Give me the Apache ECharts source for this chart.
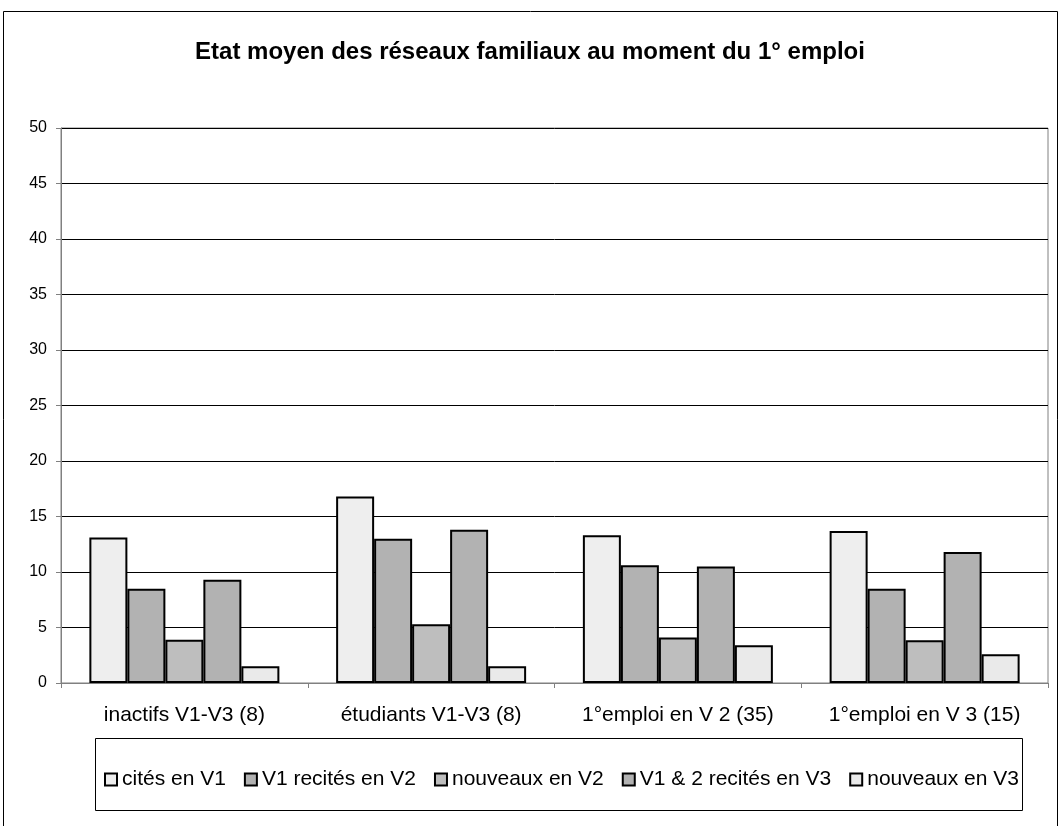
<!DOCTYPE html>
<html>
<head>
<meta charset="utf-8">
<script src="https://cdn.jsdelivr.net/npm/echarts@6/dist/echarts.min.js"></script>
<style>
  html, body { margin: 0; padding: 0; background: #fff; }
  #chart { width: 1060px; height: 826px; }
</style>
</head>
<body>
<div id="chart"></div>
<script>
// catégories et séries
const categories = ['inactifs V1-V3 (8)', 'étudiants V1-V3 (8)', '1°emploi en V 2 (35)', '1°emploi en V 3 (15)']
const seriesNames = ['cités en V1', 'V1 recités en V2', 'nouveaux en V2', 'V1 & 2 recités en V3', 'nouveaux en V3']
const citesV1 = [13.1, 16.8, 13.3, 13.7]
const recitesV2 = [8.5, 13.0, 10.6, 8.5]
const nouveauxV2 = [3.9, 5.3, 4.1, 3.85]
const recitesV3 = [9.3, 13.8, 10.5, 11.8]
const nouveauxV3 = [1.5, 1.5, 3.4, 2.6]
const seriesColors = ['#eeeeee', '#b2b2b2', '#bebebe', '#b2b2b2', '#eaeaea']

const seriesData = [citesV1, recitesV2, nouveauxV2, recitesV3, nouveauxV3]
const font = 'Liberation Sans, Arial, sans-serif'

const chart = echarts.init(document.getElementById('chart'))

chart.setOption({
  backgroundColor: '#fff',
  animation: false,
  title: {
    text: 'Etat moyen des réseaux familiaux au moment du 1° emploi',
    left: 'center',
    top: 35,
    textStyle: { fontFamily: font, fontSize: 24, fontWeight: 'bold', color: '#000' }
  },
  graphic: [
    {
      type: 'rect',
      shape: { x: 3.5, y: 11.5, width: 1054, height: 830 },
      style: { fill: 'none', stroke: '#000', lineWidth: 1 },
      silent: true
    },
    {
      type: 'rect',
      shape: { x: 95.5, y: 738.5, width: 927, height: 72 },
      style: { fill: 'none', stroke: '#000', lineWidth: 1 },
      silent: true
    }
  ],
  legend: {
    left: 99,
    top: 764,
    icon: 'rect',
    itemWidth: 12,
    itemHeight: 12,
    itemGap: 18,
    textStyle: { fontFamily: font, fontSize: 21, color: '#000' },
    data: seriesNames
  },
  grid: {
    left: 61,
    right: 12,
    top: 128,
    bottom: 143,
    show: true,
    borderColor: '#808080',
    borderWidth: 1
  },
  xAxis: {
    type: 'category',
    data: categories,
    axisLine: { lineStyle: { color: '#808080', width: 1 } },
    axisTick: { show: true, length: 5, lineStyle: { color: '#808080' } },
    axisLabel: { interval: 0, fontFamily: font, fontSize: 21, color: '#000', margin: 22 }
  },
  yAxis: {
    type: 'value',
    min: 0,
    max: 50,
    interval: 5,
    axisLine: { show: true, lineStyle: { color: '#808080', width: 1 } },
    axisTick: { show: true, length: 5, lineStyle: { color: '#808080' } },
    axisLabel: { fontFamily: font, fontSize: 16, color: '#000', margin: 14 },
    splitLine: { lineStyle: { color: '#000', width: 1 } }
  },
  series: seriesNames.map((name, i) => ({
    name: name,
    type: 'bar',
    data: seriesData[i],
    barGap: '0%',
    barCategoryGap: '23%',
    itemStyle: { color: seriesColors[i], borderColor: '#000', borderWidth: 2 }
  }))
})
</script>
</body>
</html>
